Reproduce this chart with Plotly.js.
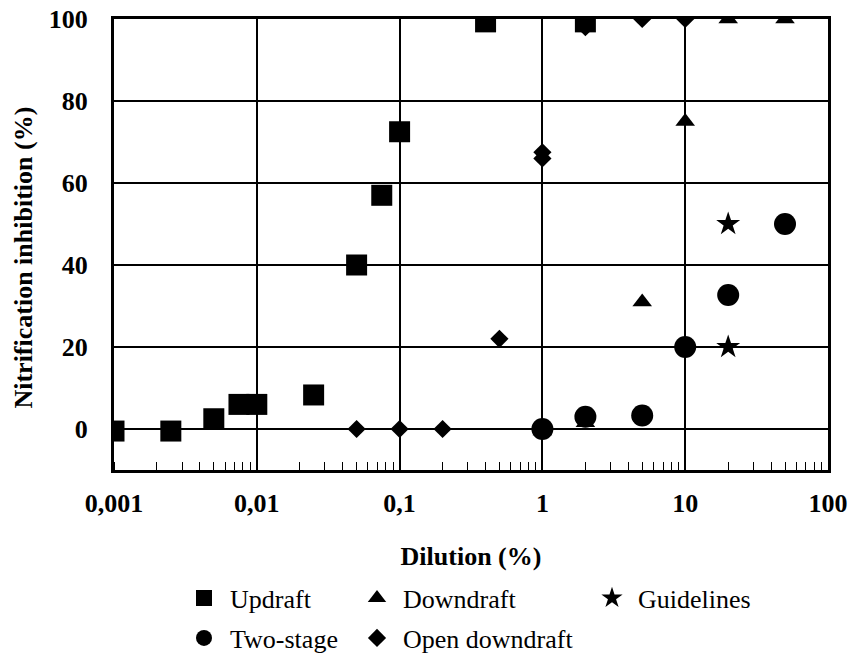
<!DOCTYPE html>
<html>
<head>
<meta charset="utf-8">
<script src="https://cdn.plot.ly/plotly-3.0.1.min.js"></script>
<style>html,body{margin:0;padding:0;background:#fff;}#chart{width:851px;height:653px;}</style>
</head>
<body>
<div id="chart"></div>
<script>
// ---- data ----
const updraftX = [0.001, 0.0025, 0.005, 0.0075, 0.01, 0.025, 0.05, 0.075, 0.1, 0.4, 2];
const updraftY = [-0.5, -0.5, 2.5, 6, 6, 8.3, 40, 57, 72.5, 99.3, 99.3];
const downdraftX = [1, 2, 5, 10, 20, 50];
const downdraftY = [-0.5, 1.5, 31, 75, 100, 100];
const guidelinesX = [20, 20];
const guidelinesY = [50, 20];
const twoStageX = [1, 2, 5, 10, 20, 50];
const twoStageY = [0, 3, 3.3, 20, 32.7, 50];
const openDownX = [0.05, 0.1, 0.2, 0.5, 1, 1, 2, 5, 10];
const openDownY = [0, 0, 0, 22, 67.5, 66, 98, 100, 100];
const xTickVals = [0.001, 0.01, 0.1, 1, 10, 100];
const xTickText = ['0,001', '0,01', '0,1', '1', '10', '100'];
const yTickVals = [0, 20, 40, 60, 80, 100];
const xTitle = 'Dilution (%)';
const yTitle = 'Nitrification inhibition (%)';

const serif = 'Liberation Serif, Times New Roman, serif';
const W = 851, H = 653;
const ML = 113.5, MR = 23, MT = 19, MB = 183;

function tr(name, x, y, symbol, size, legendId) {
  return {
    type: 'scatter', mode: 'markers', name: name, x: x, y: y,
    marker: {symbol: symbol, size: size, color: '#000', line: {width: 0}},
    cliponaxis: true, legend: legendId, showlegend: true, hoverinfo: 'x+y'
  };
}

const traces = [
  tr('Updraft', updraftX, updraftY, 'square', 21, 'legend'),
  tr('Downdraft', downdraftX, downdraftY, 'triangle-up', 17, 'legend2'),
  tr('Guidelines', guidelinesX, guidelinesY, 'star', 18, 'legend3'),
  tr('Two-stage', twoStageX, twoStageY, 'circle', 22, 'legend4'),
  tr('Open downdraft', openDownX, openDownY, 'diamond', 14, 'legend5')
];

function leg(cx, cy) {
  return {
    xref: 'container', yref: 'container',
    x: (cx - 26) / W, y: 1 - cy / H, xanchor: 'left', yanchor: 'middle',
    bgcolor: 'rgba(0,0,0,0)', borderwidth: 0, itemwidth: 42,
    font: {family: serif, size: 26, color: '#000'}, itemclick: false, itemdoubleclick: false
  };
}

const layout = {
  width: W, height: H,
  margin: {l: ML, r: MR, t: MT, b: MB, autoexpand: false},
  paper_bgcolor: '#fff', plot_bgcolor: '#fff',
  font: {family: serif, color: '#000'},
  xaxis: {
    type: 'log', range: [-3, 2], autorange: false,
    tickvals: xTickVals, ticktext: xTickText,
    tickfont: {family: serif, size: 26, color: '#000', weight: 'bold'},
    ticks: '', ticklabelstandoff: 8,
    showgrid: true, gridcolor: '#000', gridwidth: 2,
    showline: true, linecolor: '#000', linewidth: 3, mirror: true,
    zeroline: false,
    minor: {ticks: 'inside', ticklen: 8, tickwidth: 1, tickcolor: '#000', dtick: 'D1', showgrid: false},
    title: {text: xTitle, font: {family: serif, size: 26, color: '#000', weight: 'bold'}, standoff: 30},
    automargin: false, fixedrange: true
  },
  yaxis: {
    range: [-10, 100], autorange: false,
    tickvals: yTickVals,
    tickfont: {family: serif, size: 26, color: '#000', weight: 'bold'},
    ticks: 'outside', ticklen: 18, tickcolor: 'rgba(0,0,0,0)',
    showgrid: true, gridcolor: '#000', gridwidth: 2,
    showline: true, linecolor: '#000', linewidth: 3, mirror: true,
    zeroline: false,
    automargin: false, fixedrange: true
  },
  annotations: [{
    text: '<b>' + yTitle + '</b>', textangle: -90, showarrow: false,
    xref: 'paper', yref: 'paper',
    x: (22 - ML) / (W - ML - MR), y: (470 - 258) / 451, xanchor: 'center', yanchor: 'middle',
    font: {family: serif, size: 26, color: '#000'}
  }],
  legend: leg(204, 598),
  legend2: leg(377, 598),
  legend3: leg(612, 598),
  legend4: leg(204, 638),
  legend5: leg(377, 638)
};

Plotly.newPlot('chart', traces, layout, {displayModeBar: false, staticPlot: true});
</script>
</body>
</html>
